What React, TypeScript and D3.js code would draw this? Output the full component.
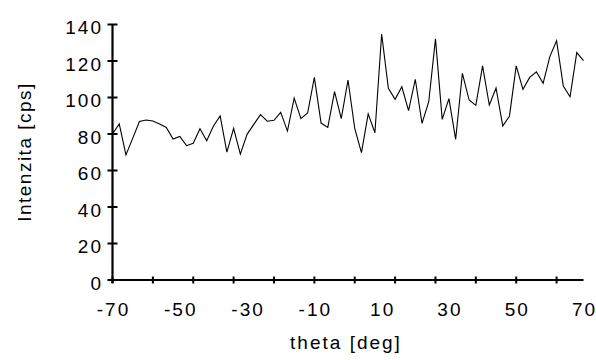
import React from "react";
import * as d3 from "d3";

const theta: number[] = [
  -70, -68, -66, -64, -62, -60, -58, -56, -54, -52, -50, -48, -46, -44, -42, -40,
  -38, -36, -34, -32, -30, -28, -26, -24, -22, -20, -18, -16, -14, -12, -10, -8,
  -6, -4, -2, 0, 2, 4, 6, 8, 10, 12, 14, 16, 18, 20, 22, 24, 26, 28, 30, 32, 34,
  36, 38, 40, 42, 44, 46, 48, 50, 52, 54, 56, 58, 60, 62, 64, 66, 68, 70,
];

const intensity: number[] = [
  80.0, 85.5, 68.5, 77.6, 86.8, 87.7, 87.1, 85.5, 83.6, 77.2, 78.7, 73.6, 74.9,
  82.9, 76.3, 84.4, 89.9, 70.1, 83.1, 69.0, 79.8, 85.3, 90.6, 87.0, 87.5, 91.9,
  81.6, 99.7, 88.4, 91.5, 111.0, 86.0, 83.6, 103.2, 88.4, 109.6, 83.1, 69.8,
  91.0, 80.7, 134.8, 105.0, 99.0, 105.9, 92.8, 110.0, 85.8, 97.7, 132.1, 88.0,
  99.4, 77.1, 113.2, 98.6, 95.7, 117.3, 95.9, 105.2, 84.4, 89.9, 117.3, 104.5,
  111.0, 114.1, 107.8, 122.4, 131.1, 106.3, 100.4, 124.6, 120.2,
];

const xTickMarks: number[] = [-70, -58, -46, -34, -22, -10, 2, 14, 26, 38, 50, 62];
const xTickLabels: number[] = [-70, -50, -30, -10, 10, 30, 50, 70];
const yTicks: number[] = [0, 20, 40, 60, 80, 100, 120, 140];

const xTitle = "theta [deg]";
const yTitle = "Intenzita [cps]";

const W = 596;
const H = 360;
const FONT = "'Liberation Sans', Arial, sans-serif";

export default function App() {
  const x = d3.scaleLinear().domain([-70, 70]).range([112.5, 583.5]);
  const y = d3.scaleLinear().domain([0, 140]).range([280, 24.5]);

  const line = d3
    .line<number>()
    .x((_, i) => x(theta[i]))
    .y((d) => y(d));

  return (
    <svg
      width={W}
      height={H}
      style={{ position: "absolute", left: 0, top: 0, background: "#fff" }}
    >
      <rect x={0} y={0} width={W} height={H} fill="#fff" />
      {/* data line */}
      <path d={line(intensity) || ""} fill="none" stroke="#000" strokeWidth={1.1} />

      {/* y axis */}
      <line x1={x(-70)} x2={x(-70)} y1={y(140)} y2={y(0) + 3} stroke="#000" strokeWidth={2.2} />
      {yTicks.map((t) => (
        <g key={"yt" + t}>
          <line x1={x(-70) - 5} x2={x(-70) + 5} y1={y(t)} y2={y(t)} stroke="#000" strokeWidth={2} />
          <text
            x={103}
            y={y(t) + 3}
            dy="0.36em"
            textAnchor="end"
            fontFamily={FONT}
            fontSize={19}
            letterSpacing={2}
            fill="#000"
          >
            {t}
          </text>
        </g>
      ))}

      {/* x axis */}
      <line x1={x(-70) - 3} x2={x(70)} y1={y(0)} y2={y(0)} stroke="#000" strokeWidth={2.2} />
      {xTickMarks.map((t) => (
        <line key={"xm" + t} x1={x(t)} x2={x(t)} y1={y(0) - 3.5} y2={y(0) + 3.5} stroke="#000" strokeWidth={2} />
      ))}
      {xTickLabels.map((t) => (
        <text
          key={"xl" + t}
          x={x(t) + 1}
          y={316}
          textAnchor="middle"
          fontFamily={FONT}
          fontSize={19}
          letterSpacing={2}
          fill="#000"
        >
          {t}
        </text>
      ))}

      <text
        x={346}
        y={349}
        textAnchor="middle"
        fontFamily={FONT}
        fontSize={19}
        letterSpacing={2}
        fill="#000"
      >
        {xTitle}
      </text>
      <text
        transform={`translate(31,152) rotate(-90)`}
        textAnchor="middle"
        fontFamily={FONT}
        fontSize={19}
        letterSpacing={1.5}
        fill="#000"
      >
        {yTitle}
      </text>
    </svg>
  );
}
